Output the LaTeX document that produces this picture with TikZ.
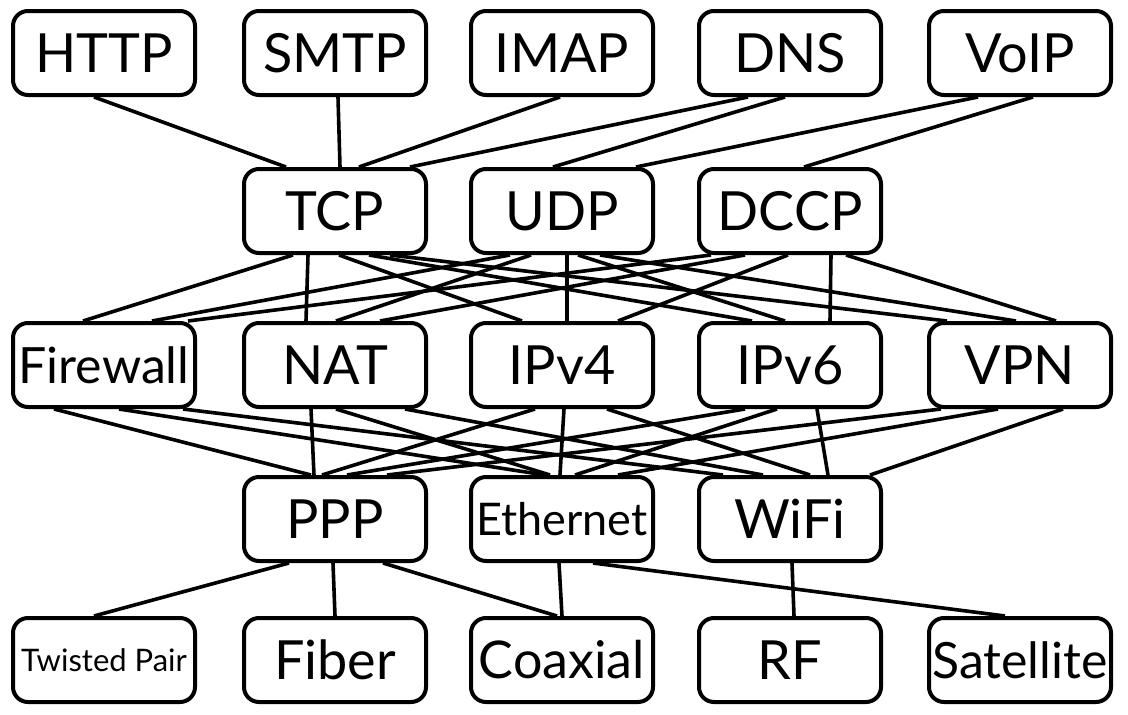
\documentclass[tikz,border=0pt]{standalone}
\usepackage{fontspec}
\setmainfont{Lato}
\tikzset{
  box/.style={draw, line width=4pt, rounded corners=15pt, minimum width=182pt,
    minimum height=84pt, inner sep=0pt, fill=white, font=\fontsize{54}{60}\selectfont},
  link/.style={line width=3.6pt},
}
\newcommand\lnk[4]{\draw[link] ([xshift=#2pt]#1.south) -- ([xshift=#4pt]#3.north);}
\begin{document}
\begin{tikzpicture}[x=1pt,y=-1pt]
\useasboundingbox[fill=white] (0,0) rectangle (1128,715);
% row 1
\node[box] (http) at (104,53) {HTTP};
\node[box] (smtp) at (335,53) {SMTP};
\node[box] (imap) at (562,53) {IMAP};
\node[box] (dns)  at (790,53) {DNS};
\node[box] (voip) at (1020,53) {VoIP};
% row 2
\node[box] (tcp)  at (335,211) {TCP};
\node[box] (udp)  at (562,211) {UDP};
\node[box] (dccp) at (790,211) {DCCP};
% row 3
\node[box, font=\fontsize{50}{56}\selectfont] (fw) at (104,365) {Firewall};
\node[box] (nat)  at (335,365) {NAT};
\node[box] (ipv4) at (562,365) {IPv4};
\node[box] (ipv6) at (790,365) {IPv6};
\node[box] (vpn)  at (1020,365) {VPN};
% row 4
\node[box] (ppp)  at (335,519) {PPP};
\node[box, font=\fontsize{45}{50}\selectfont] (eth) at (562,519) {Ethernet};
\node[box] (wifi) at (790,519) {WiFi};
% row 5
\node[box, font=\fontsize{31}{36}\selectfont] (tp) at (104,660) {Twisted Pair};
\node[box] (fiber) at (335,660) {Fiber};
\node[box, font=\fontsize{52}{58}\selectfont] (coax) at (562,660) {Coaxial};
\node[box] (rf)   at (790,660) {RF};
\node[box, font=\fontsize{50}{56}\selectfont] (sat) at (1020,660) {Satellite};
% application -> transport
\lnk{http}{-10}{tcp}{-49}
\lnk{smtp}{3}{tcp}{5}
\lnk{imap}{-2}{tcp}{24}
\lnk{dns}{-42}{tcp}{75}
\lnk{dns}{-5}{udp}{-9}
\lnk{voip}{-42}{udp}{74}
\lnk{voip}{13}{dccp}{14}
% transport -> network
\lnk{tcp}{-42}{fw}{-21}
\lnk{tcp}{-27}{nat}{-29}
\lnk{tcp}{4}{ipv4}{-40}
\lnk{tcp}{34}{ipv6}{-38}
\lnk{tcp}{55}{vpn}{-73}
\lnk{udp}{-52}{fw}{48}
\lnk{udp}{-31}{nat}{1}
\lnk{udp}{5}{ipv4}{5}
\lnk{udp}{16}{ipv6}{-5}
\lnk{udp}{38}{vpn}{-4}
\lnk{dccp}{-79}{fw}{84}
\lnk{dccp}{-45}{nat}{45}
\lnk{dccp}{-2}{ipv4}{56}
\lnk{dccp}{41}{ipv6}{40}
\lnk{dccp}{56}{vpn}{36}
% network -> link
\lnk{fw}{-50}{ppp}{-24}
\lnk{fw}{15}{eth}{-17}
\lnk{fw}{79}{wifi}{-67}
\lnk{nat}{-24}{ppp}{-21}
\lnk{nat}{1}{eth}{-12}
\lnk{nat}{70}{wifi}{-27}
\lnk{ipv4}{-27}{ppp}{-13}
\lnk{ipv4}{2}{eth}{-2}
\lnk{ipv4}{45}{wifi}{20}
\lnk{ipv6}{-45}{ppp}{12}
\lnk{ipv6}{-13}{eth}{13}
\lnk{ipv6}{27}{wifi}{38}
\lnk{vpn}{-79}{ppp}{52}
\lnk{vpn}{-22}{eth}{56}
\lnk{vpn}{43}{wifi}{80}
% link -> physical
\lnk{ppp}{-46}{tp}{-10}
\lnk{ppp}{-2}{fiber}{0}
\lnk{ppp}{48}{coax}{-5}
\lnk{eth}{-3}{coax}{0}
\lnk{eth}{31}{sat}{-15}
\lnk{wifi}{2}{rf}{4}
\end{tikzpicture}
\end{document}
